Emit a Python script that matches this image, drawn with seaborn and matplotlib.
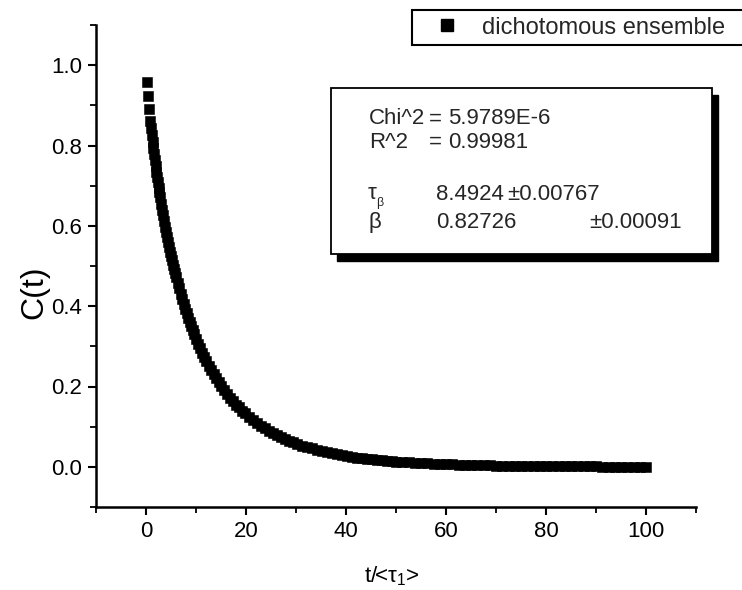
import matplotlib
matplotlib.use("Agg")
import matplotlib.pyplot as plt
import numpy as np
import pandas as pd
import seaborn as sns
from matplotlib.patches import Rectangle
from matplotlib.lines import Line2D
from matplotlib.ticker import MultipleLocator, FormatStrFormatter

# ---------------- data ----------------
t_vals = [0.19, 0.40, 0.63, 0.86,
          1.0, 1.15, 1.3, 1.45, 1.6, 1.75, 1.9, 2.05, 2.2, 2.35, 2.5, 2.65, 2.8, 3.0,
          3.2, 3.4, 3.6, 3.8, 4.0, 4.2, 4.4, 4.6, 4.8, 5.0, 5.2, 5.4, 5.6, 5.8, 6.0,
          6.3, 6.6, 6.9, 7.2, 7.5, 7.8, 8.1, 8.4, 8.7, 9.0, 9.3, 9.6, 10.0,
          10.4, 10.8, 11.2, 11.6, 12.0, 12.5, 13.0, 13.5, 14.0, 14.5, 15.0,
          15.6, 16.2, 16.8, 17.4, 18.0, 18.6, 19.2, 19.8,
          20.6, 21.4, 22.2, 23.0, 23.8, 24.6, 25.4, 26.2, 27.0, 27.8, 28.6, 29.4, 30.2,
          31.2, 32.2, 33.2, 34.2, 35.2, 36.2, 37.2, 38.2, 39.2, 40.2, 41.2, 42.2, 43.2,
          44.2, 45.2, 46.2, 47.2, 48.2, 49.2,
          50, 51.25, 52.5, 53.75, 55, 56.25, 57.5, 58.75, 60, 61.25, 62.5, 63.75, 65,
          66.25, 67.5, 68.75, 70, 71.25, 72.5, 73.75, 75, 76.25, 77.5, 78.75, 80,
          81.25, 82.5, 83.75, 85, 86.25, 87.5, 88.75, 90, 91.25, 92.5, 93.75, 95,
          96.25, 97.5, 98.75, 100]
c_vals = [0.958, 0.923, 0.890, 0.860,
          0.843, 0.826, 0.809, 0.793, 0.778, 0.763, 0.749, 0.735, 0.721, 0.708, 0.695, 0.683, 0.671, 0.655,
          0.640, 0.626, 0.612, 0.598, 0.585, 0.572, 0.560, 0.548, 0.536, 0.525, 0.514, 0.503, 0.492, 0.482, 0.472,
          0.458, 0.444, 0.431, 0.418, 0.406, 0.394, 0.382, 0.371, 0.361, 0.350, 0.340, 0.331, 0.318,
          0.307, 0.295, 0.284, 0.274, 0.264, 0.252, 0.241, 0.231, 0.220, 0.211, 0.202,
          0.191, 0.182, 0.172, 0.164, 0.155, 0.148, 0.140, 0.133,
          0.125, 0.117, 0.109, 0.102, 0.096, 0.090, 0.084, 0.079, 0.074, 0.069, 0.065, 0.061, 0.058,
          0.053, 0.049, 0.046, 0.042, 0.039, 0.036, 0.034, 0.031, 0.029, 0.027, 0.025, 0.023, 0.021,
          0.020, 0.019, 0.017, 0.016, 0.015, 0.014,
          0.0131, 0.0120, 0.0110, 0.0100, 0.0092, 0.0084, 0.0077, 0.0071, 0.0065, 0.0059, 0.0055, 0.0050, 0.0046,
          0.0042, 0.0039, 0.0036, 0.0033, 0.0030, 0.0028, 0.0025, 0.0023, 0.0022, 0.0020, 0.0018, 0.0017,
          0.0015, 0.0014, 0.0013, 0.0012, 0.0011, 0.0010, 0.0009, 0.0009, 0.0008, 0.0007, 0.0007, 0.0006,
          0.0006, 0.0005, 0.0005, 0.0005]
assert len(t_vals) == len(c_vals)

x_ticks = [0, 20, 40, 60, 80, 100]
y_ticks = [0.0, 0.2, 0.4, 0.6, 0.8, 1.0]
series_label = "dichotomous ensemble"
x_label = r"t/<$\tau_1$>"
y_label = "C(t)"
fit_names = ["Chi^2", "R^2"]
fit_values = ["5.9789E-6", "0.99981"]
tau_value, tau_err = "8.4924", "\u00b10.00767"
beta_value, beta_err = "0.82726", "\u00b10.00091"

# ---------------- style ----------------
sns.set_theme(style="ticks")
plt.rcParams["font.family"] = ["Liberation Sans", "DejaVu Sans"]
plt.rcParams["mathtext.fontset"] = "custom"
plt.rcParams["mathtext.rm"] = "Liberation Sans"
plt.rcParams["mathtext.it"] = "Liberation Sans"

W, H = 742, 590
FS = 16

def fx(px):
    return px / W

def fy(py):
    return 1 - py / H

fig = plt.figure(figsize=(W / 100, H / 100), dpi=100)
fig.patch.set_facecolor("white")
ax = fig.add_axes([fx(96), fy(507), 600 / W, 482 / H])
ax.set_facecolor("white")

df = pd.DataFrame({"t": t_vals, "C": c_vals})
sns.scatterplot(data=df, x="t", y="C", marker="s", s=58, color="black",
                edgecolor="black", linewidth=0.4, ax=ax, legend=False)

ax.set_xlim(-10, 110)
ax.set_ylim(-0.1, 1.1)
ax.set_xticks(x_ticks)
ax.set_yticks(y_ticks)
ax.xaxis.set_minor_locator(MultipleLocator(10))
ax.yaxis.set_minor_locator(MultipleLocator(0.1))
ax.yaxis.set_major_formatter(FormatStrFormatter("%.1f"))
ax.tick_params(which="major", direction="out", length=6, width=1.5,
               labelsize=FS, colors="black", pad=4)
ax.tick_params(which="minor", direction="out", length=4, width=1.3, colors="black")
for s in ["top", "right"]:
    ax.spines[s].set_visible(False)
for s in ["left", "bottom"]:
    ax.spines[s].set_linewidth(1.8)
    ax.spines[s].set_color("black")

ax.set_xlabel(x_label, fontsize=FS, color="black")
ax.set_ylabel(y_label, fontsize=23, color="black")
ax.xaxis.set_label_coords(0.493, -0.12)
ax.yaxis.set_label_coords(-0.078, 0.445)

# ---------------- legend ----------------
fig.patches.append(Rectangle((fx(412), fy(45)), (760 - 412) / W, 35 / H,
                             transform=fig.transFigure, facecolor="white",
                             edgecolor="black", linewidth=1.5, clip_on=False))
handle = Line2D([], [], marker="s", ls="none", color="black", markersize=9)
leg = fig.legend([handle], [series_label], loc="center left",
                 bbox_to_anchor=(fx(435), fy(27.5)), bbox_transform=fig.transFigure,
                 frameon=False, fontsize=17, handlelength=1.0, handletextpad=1.0,
                 borderpad=0, borderaxespad=0)

# ---------------- fit box ----------------
bx0, by0, bx1, by1 = 331, 88, 712, 254
fig.patches.append(Rectangle((fx(bx0 + 6), fy(by1 + 7)), (bx1 - bx0) / W, (by1 - by0) / H,
                             transform=fig.transFigure, facecolor="black",
                             edgecolor="black", linewidth=1))
fig.patches.append(Rectangle((fx(bx0), fy(by1)), (bx1 - bx0) / W, (by1 - by0) / H,
                             transform=fig.transFigure, facecolor="white",
                             edgecolor="black", linewidth=1.3))

row_y = [119, 142]
for name, val, yy in zip(fit_names, fit_values, row_y):
    fig.text(fx(369), fy(yy), name, fontsize=FS, va="center", ha="left")
    fig.text(fx(429), fy(yy), "=", fontsize=FS, va="center", ha="left")
    fig.text(fx(448), fy(yy), val, fontsize=FS, va="center", ha="left")

fig.text(fx(368), fy(194), "\u03c4", fontsize=FS, va="center", ha="left")
fig.text(fx(376), fy(203), "\u03b2", fontsize=9, va="center", ha="left")
fig.text(fx(436), fy(195), tau_value, fontsize=FS, va="center", ha="left")
fig.text(fx(507), fy(195), tau_err, fontsize=FS, va="center", ha="left")
fig.text(fx(368), fy(222), "\u03b2", fontsize=FS, va="center", ha="left")
fig.text(fx(436), fy(222), beta_value, fontsize=FS, va="center", ha="left")
fig.text(fx(589), fy(222), beta_err, fontsize=FS, va="center", ha="left")

fig.savefig("out.png", dpi=100, facecolor="white")
